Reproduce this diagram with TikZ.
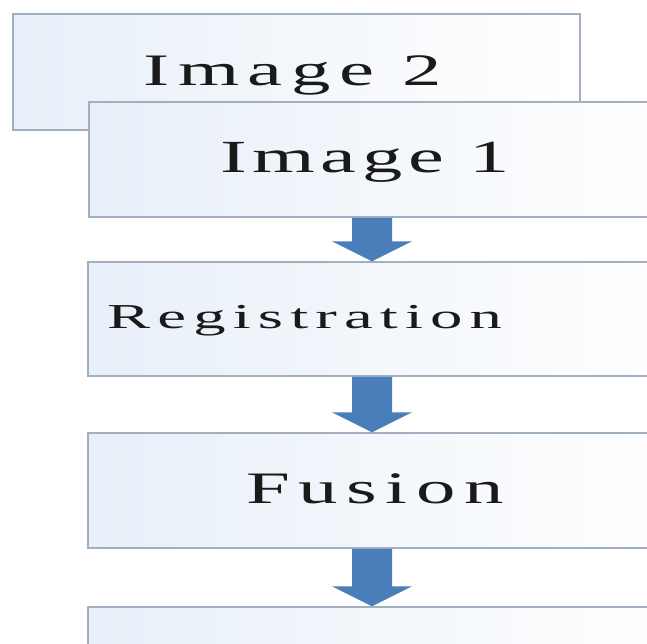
\documentclass[tikz,border=0pt]{standalone}
\usepackage{fontspec}
\setmainfont{Liberation Serif}
\usetikzlibrary{calc}
\definecolor{boxline}{HTML}{A2AFBF}
\definecolor{boxfill}{HTML}{E8EFF8}
\definecolor{arrowblue}{HTML}{4A7EBB}
\definecolor{inkc}{HTML}{1A1A1A}
\newcommand{\blockarrow}[2]{%
  \fill[arrowblue] ($(#1)+(-20,0)$) -- ($(#1)+(20,0)$) -- ($(#2)+(20,-20)$) -- ($(#2)+(40,-20)$) -- (#2) -- ($(#2)+(-40,-20)$) -- ($(#2)+(-20,-20)$) -- cycle;}
\newcommand{\widetext}[4]{\scalebox{#1}[1]{\fontsize{#2}{#2}\selectfont\addfontfeature{LetterSpace=#3}#4}}
\begin{document}
\begin{tikzpicture}[x=1pt,y=-1pt,
  stagebox/.style={rectangle, draw=boxline, line width=1.5pt, left color=boxfill, right color=white, inner sep=0pt},
  lbl/.style={inner sep=0pt, anchor=base west, text=inkc}]
\useasboundingbox (0,0) rectangle (647,643);
\fill[white] (0,0) rectangle (647,643);
\clip (0,0) rectangle (647,643);
% boxes and labels
\node[stagebox, minimum width=567pt, minimum height=116pt] (img2) at (296.5,72) {};
\node[lbl] (t2) at (143,85) {\widetext{1.75}{45}{11}{Image 2}};
\node[stagebox, minimum width=591pt, minimum height=115pt] (img1) at (384.5,159.5) {};
\node[lbl] (t1) at (220,172) {\widetext{1.75}{46}{7}{Image 1}};
\node[stagebox, minimum width=592pt, minimum height=114pt] (reg) at (384,319) {};
\node[lbl] (treg) at (107,328) {\widetext{1.85}{35}{11}{Registration}};
\node[stagebox, minimum width=592pt, minimum height=115pt] (fus) at (384,490.5) {};
\node[lbl] (tfus) at (246,503) {\widetext{1.75}{45}{11}{Fusion}};
\node[stagebox, minimum width=592pt, minimum height=118pt] (last) at (384,666) {};
% arrows
\coordinate (ax) at (372,0);
\coordinate (a1s) at (ax |- img1.south);
\coordinate (a1e) at (ax |- reg.north);
\coordinate (a2s) at (ax |- reg.south);
\coordinate (a2e) at (ax |- fus.north);
\coordinate (a3s) at (ax |- fus.south);
\coordinate (a3e) at (ax |- last.north);
\blockarrow{a1s}{a1e}
\blockarrow{a2s}{a2e}
\blockarrow{a3s}{a3e}
\end{tikzpicture}
\end{document}
